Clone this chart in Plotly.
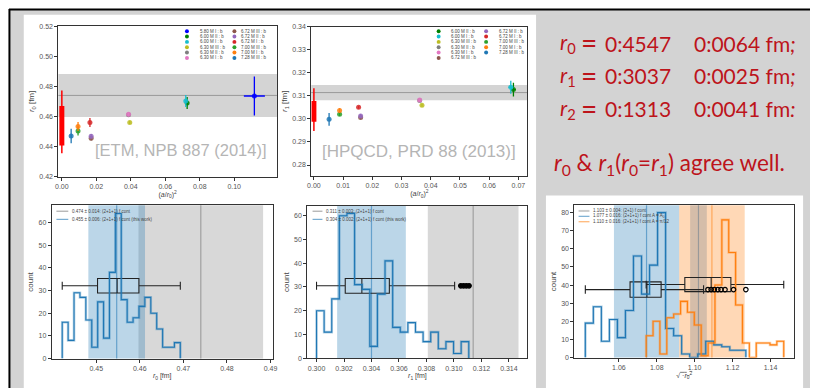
import numpy as np
import plotly.graph_objects as go

W, H = 815, 391
def px(x): return x / W
def py(y): return 1 - y / H

# ---------------- data ----------------
ens1_labels = ["5.80 M I : b", "6.00 M II : b", "6.00 M I : b", "6.30 M III : b", "6.30 M II : b", "6.30 M I : b",
               "6.72 M III : b", "6.72 M II : b", "6.72 M I : b", "7.00 M III : b", "7.00 M I : b", "7.28 M III : b"]
ens1_colors = ["#0000ff", "#008000", "#17becf", "#bcbd22", "#7f7f7f", "#e377c2",
               "#8c564b", "#9467bd", "#d62728", "#2ca02c", "#ff7f0e", "#1f77b4"]
ens1_x = [0.1117, 0.0727, 0.0719, 0.0394, 0.0387, 0.0387, 0.0170, 0.0170, 0.0163, 0.0094, 0.0094, 0.0054]
ens1_y = [0.4736, 0.4690, 0.4703, 0.4560, 0.4612, 0.4614, 0.4455, 0.4468, 0.4560, 0.4503, 0.4533, 0.4470]
ens1_ey = [0.0130, 0.0040, 0.0040, 0.0010, 0.0010, 0.0012, 0.0015, 0.0015, 0.0030, 0.0030, 0.0030, 0.0048]
ens1_ex = [0.0061, 0.0008, 0.0008, 0, 0, 0, 0, 0, 0, 0, 0, 0]

ens2_labels = ["6.00 M II : b", "6.00 M I : b", "6.30 M III : b", "6.30 M II : b", "6.30 M I : b", "6.72 M III : b",
               "6.72 M II : b", "6.72 M I : b", "7.00 M III : b", "7.00 M I : b", "7.28 M III : b"]
ens2_colors = ["#008000", "#17becf", "#bcbd22", "#7f7f7f", "#e377c2", "#8c564b",
               "#9467bd", "#d62728", "#2ca02c", "#ff7f0e", "#1f77b4"]
ens2_x = [0.0683, 0.0674, 0.0370, 0.0362, 0.0362, 0.0160, 0.0160, 0.0153, 0.0088, 0.0088, 0.0052]
ens2_y = [0.3127, 0.3137, 0.3059, 0.3080, 0.3082, 0.3006, 0.3013, 0.3050, 0.3020, 0.3036, 0.2998]
ens2_ey = [0.0030, 0.0028, 0.0006, 0.0006, 0.0006, 0.0008, 0.0008, 0.0006, 0.0008, 0.0010, 0.0028]
ens2_ex = [0.0008, 0.0008, 0, 0, 0, 0, 0, 0, 0, 0, 0]

# continuum results (stat / total range)
r0_cont_stat = [0.4407, 0.4669]
r0_cont_tot = [0.4355, 0.4773]
r1_cont_stat = [0.2988, 0.3077]
r1_cont_tot = [0.2948, 0.3133]

# literature bands (center, half width)
r0_lit = [0.474, 0.0143]
r1_lit = [0.3114, 0.0033]
r0_this = [0.4547, 0.0065]
r1_this = [0.3040, 0.0025]

# histograms
r0_edges = [0.4422, 0.4693]
r0_counts = [16, 8, 29, 27, 17, 5, 25, 9, 38, 64, 26, 16, 18, 23, 27, 20, 13, 5, 5, 7]
r1_edges = [0.3000, 0.31108]
r1_counts = [20, 11, 25, 60, 61, 31, 29, 5, 27, 41, 13, 11, 15, 11, 7, 11, 4, 7, 2, 7]
sqA_edges = [1.0423, 1.1270]
sqA_counts = [19, 28, 9, 21, 11, 26, 56, 35, 51, 80, 16, 12, 2, 0, 2, 9, 7, 6, 4, 4]
sqB_edges = [1.0744, 1.1470]
sqB_counts = [12, 20, 2, 22, 24, 31, 25, 18, 1, 8, 40, 76, 58, 29, 8, 0, 8, 8, 7, 9]

sq_lit = [1.1020, 0.0044]
sqA_band = [1.0746, 0.0172]
sqB_band = [1.1091, 0.0173]

# boxplot stats: lower, q1, median, q3, upper, position, height
r0_box = [0.4422, 0.4503, 0.4548, 0.4598, 0.4693, 32.1, 6.4]
r1_box = [0.3000, 0.30209, 0.3033, 0.3053, 0.31005, 30.5, 6.2]
r1_fliers = [0.3105, 0.3107, 0.3109, 0.3111]
sqA_box = [1.0423, 1.0659, 1.0748, 1.0823, 1.1047, 37.5, 8.5]
sqA_fliers = [1.1070, 1.1087, 1.1104, 1.1122, 1.1139, 1.1160, 1.1205, 1.1270]
sqB_box = [1.0744, 1.0948, 1.1087, 1.1191, 1.1470, 40.3, 7.8]

leg3 = ["0.474 ± 0.014: (2+1+1) f cont", "0.455 ± 0.006: (2+1+1) f cont (this work)"]
leg4 = ["0.311 ± 0.003: (2+1+1) f cont", "0.304 ± 0.002: (2+1+1) f cont (this work)"]
leg5 = ["1.103 ± 0.004: (2+1) f cont", "1.077 ± 0.016: (2+1+1) f cont A = A<sub>0</sub>",
        "1.110 ± 0.016: (2+1+1) f cont A = π/12"]

BLUE = "#1f77b4"
ORANGE = "#ff7f0e"
RED_TXT = "#bd141b"
TICKF = dict(family="Liberation Sans", size=7, color="#555555")

fig = go.Figure()

# ---------------- subplot domains (pixel boxes) ----------------
boxes = {
    1: (55, 276, 22.7, 175.7),
    2: (310.7, 529.3, 23, 175),
    3: (48.3, 271.7, 205, 361),
    4: (306.7, 529.3, 205.7, 360.7),
    5: (576.7, 799, 205, 360),
}
ranges = {
    1: ([-0.0020, 0.1248], [0.42, 0.52]),
    2: ([-0.0009, 0.0731], [0.2753, 0.34]),
    3: ([0.4398, 0.4905], [0, 67.6]),
    4: ([0.29933, 0.31535], [0, 64.1]),
    5: ([1.0365, 1.1525], [0, 84]),
}
ticks = {
    1: (np.round(np.arange(0, 0.101, 0.02), 2), ".2f", np.round(np.arange(0.42, 0.521, 0.02), 2), ".2f"),
    2: (np.round(np.arange(0, 0.071, 0.01), 2), ".2f", np.round(np.arange(0.28, 0.341, 0.01), 2), ".2f"),
    3: (np.round(np.arange(0.45, 0.491, 0.01), 2), ".2f", list(range(0, 61, 10)), "d"),
    4: (np.round(np.arange(0.300, 0.3141, 0.002), 3), ".3f", list(range(0, 61, 10)), "d"),
    5: (np.round(np.arange(1.06, 1.141, 0.02), 2), ".2f", list(range(0, 81, 10)), "d"),
}
xtitles = {1: "(<i>a</i>/<i>r</i><sub>0</sub>)<sup>2</sup>", 2: "(<i>a</i>/<i>r</i><sub>0</sub>)<sup>2</sup>",
           3: "<i>r</i><sub>0</sub> [fm]", 4: "<i>r</i><sub>1</sub> [fm]",
           5: "√<span style='text-decoration:overline'> ·<i>r</i><sub>0</sub><sup>2</sup></span>"}
ytitles = {1: "<i>r</i><sub>0</sub> [fm]", 2: "<i>r</i><sub>1</sub> [fm]", 3: "count", 4: "count", 5: "count"}

for i in range(1, 6):
    x0, x1, y0, y1 = boxes[i]
    xr, yr = ranges[i]
    xt, xf, yt, yf = ticks[i]
    sfx = "" if i == 1 else str(i)
    common = dict(showline=True, mirror=True, linecolor="#333333", linewidth=1, ticks="outside",
                  ticklen=3, tickwidth=1, tickcolor="#333333", showgrid=False, zeroline=False,
                  tickfont=TICKF)
    fig.update_layout(**{
        "xaxis" + sfx: dict(domain=[px(x0), px(x1)], range=xr, tickvals=list(xt), tickformat=xf,
                            anchor="y" + sfx, title=dict(text=xtitles[i], font=dict(family="Liberation Sans", size=7, color="#444"), standoff=2), **common),
        "yaxis" + sfx: dict(domain=[py(y1), py(y0)], range=yr, tickvals=list(yt), tickformat=yf,
                            anchor="x" + sfx, title=dict(text=ytitles[i], font=dict(family="Liberation Sans", size=8, color="#444"), standoff=3), **common),
    })

def ax(i):
    return ("x", "y") if i == 1 else ("x%d" % i, "y%d" % i)

# ---------------- top plots ----------------
def top_plot(i, labels, colors, xs, ys, eys, exs, stat, tot, lit):
    xa, ya = ax(i)
    fig.add_shape(type="rect", xref=xa + " domain", yref=ya, x0=0, x1=1, y0=lit[0] - lit[1], y1=lit[0] + lit[1],
                  fillcolor="rgba(160,160,160,0.45)", line_width=0, layer="below")
    fig.add_shape(type="line", xref=xa + " domain", yref=ya, x0=0, x1=1, y0=lit[0], y1=lit[0],
                  line=dict(color="#999999", width=1), layer="below")
    fig.add_trace(go.Scatter(x=[0, 0], y=tot, mode="lines", line=dict(color="red", width=1.5),
                             xaxis=xa, yaxis=ya, showlegend=False))
    fig.add_trace(go.Scatter(x=[0, 0], y=stat, mode="lines", line=dict(color="red", width=5),
                             xaxis=xa, yaxis=ya, showlegend=False))
    for lab, c, x, y, ey, ex in zip(labels, colors, xs, ys, eys, exs):
        fig.add_trace(go.Scatter(x=[x], y=[y], mode="markers", name=lab,
                                 marker=dict(color=c, size=5, opacity=0.85),
                                 error_y=dict(type="constant", value=ey, color=c, thickness=1.3, width=0),
                                 error_x=dict(type="constant", value=ex, color=c, thickness=1.3, width=0),
                                 xaxis=xa, yaxis=ya, showlegend=False))

top_plot(1, ens1_labels, ens1_colors, ens1_x, ens1_y, ens1_ey, ens1_ex, r0_cont_stat, r0_cont_tot, r0_lit)
top_plot(2, ens2_labels, ens2_colors, ens2_x, ens2_y, ens2_ey, ens2_ex, r1_cont_stat, r1_cont_tot, r1_lit)

# ---------------- histograms ----------------
def step_xy(edges, counts):
    e = np.linspace(edges[0], edges[1], len(counts) + 1)
    xs = [e[0]] + list(e)
    ys = [0] + list(counts) + [0]
    return xs, ys

def hist(i, edges, counts, color, light):
    xa, ya = ax(i)
    xs, ys = step_xy(edges, counts)
    fig.add_trace(go.Scatter(x=xs, y=ys, mode="lines", line=dict(color=light, width=2.6, shape="hv"),
                             xaxis=xa, yaxis=ya, showlegend=False, hoverinfo="skip"))
    fig.add_trace(go.Scatter(x=xs, y=ys, mode="lines", line=dict(color=color, width=1.1, shape="hv"),
                             xaxis=xa, yaxis=ya, showlegend=False))

def band(i, b, fill, line):
    xa, ya = ax(i)
    fig.add_shape(type="rect", xref=xa, yref=ya + " domain", x0=b[0] - b[1], x1=b[0] + b[1], y0=0, y1=1,
                  fillcolor=fill, line_width=0, layer="below")
    fig.add_shape(type="line", xref=xa, yref=ya + " domain", x0=b[0], x1=b[0], y0=0, y1=1,
                  line=dict(color=line, width=1.2), layer="below")

def boxp(i, s, color="black"):
    xa, ya = ax(i)
    fig.add_trace(go.Box(lowerfence=[s[0]], q1=[s[1]], median=[s[2]], q3=[s[3]], upperfence=[s[4]], y=[s[5]],
                         orientation="h", width=s[6], whiskerwidth=0.55, fillcolor="rgba(0,0,0,0)",
                         line=dict(color=color, width=1.1), boxpoints=False, xaxis=xa, yaxis=ya,
                         showlegend=False))

def fliers(i, xs, ypos, filled):
    xa, ya = ax(i)
    fig.add_trace(go.Scatter(x=xs, y=[ypos] * len(xs), mode="markers",
                             marker=dict(symbol="circle" if filled else "circle-open", size=4.5, color="black",
                                         line=dict(width=1.2, color="black")),
                             xaxis=xa, yaxis=ya, showlegend=False))

band(3, r0_lit, "rgba(190,190,190,0.6)", "#a0a0a0")
band(3, r0_this, "rgba(31,119,180,0.3)", "rgba(31,119,180,0.55)")
hist(3, r0_edges, r0_counts, BLUE, "rgba(31,119,180,0.35)")
boxp(3, r0_box, "#222222")

band(4, r1_lit, "rgba(190,190,190,0.6)", "#a0a0a0")
band(4, r1_this, "rgba(31,119,180,0.3)", "rgba(31,119,180,0.55)")
hist(4, r1_edges, r1_counts, BLUE, "rgba(31,119,180,0.35)")
boxp(4, r1_box, "#222222")
fliers(4, r1_fliers, r1_box[5], True)

band(5, sqA_band, "rgba(31,119,180,0.3)", "rgba(31,119,180,0.55)")
band(5, sqB_band, "rgba(255,127,14,0.3)", "rgba(255,127,14,0.55)")
band(5, sq_lit, "rgba(150,150,150,0.4)", "#999999")
hist(5, sqA_edges, sqA_counts, BLUE, "rgba(31,119,180,0.35)")
hist(5, sqB_edges, sqB_counts, ORANGE, "rgba(255,127,14,0.35)")
boxp(5, sqA_box, "#222222")
boxp(5, sqB_box, "#222222")
fliers(5, sqA_fliers, sqA_box[5], False)

# ---------------- background frame ----------------
shapes = [
    dict(type="rect", xref="paper", yref="paper", x0=px(6), x1=1, y0=0, y1=py(6), fillcolor="#d3d3d3", line_width=0, layer="below"),
    dict(type="rect", xref="paper", yref="paper", x0=px(20), x1=px(538), y0=0, y1=py(11), fillcolor="white", line_width=0, layer="below"),
    dict(type="rect", xref="paper", yref="paper", x0=px(548), x1=px(808), y0=0, y1=py(195), fillcolor="white", line_width=0, layer="below"),
    dict(type="line", xref="paper", yref="paper", x0=px(5), x1=1, y0=py(5.5), y1=py(5.5), line=dict(color="black", width=2)),
    dict(type="line", xref="paper", yref="paper", x0=px(5.5), x1=px(5.5), y0=0, y1=py(5), line=dict(color="black", width=2)),
]
existing = list(fig.layout.shapes)
fig.layout.shapes = []
for s in shapes:
    fig.add_shape(**s)
for s in existing:
    fig.add_shape(s)

# ---------------- legends (manual) ----------------
ann = []
def leg_marker(x, y, color):
    fig.add_shape(type="circle", xref="paper", yref="paper", x0=px(x - 2), x1=px(x + 2), y0=py(y + 2), y1=py(y - 2),
                  fillcolor=color, line_width=0)
def leg_text(x, y, t, size=4.5):
    ann.append(dict(x=px(x), y=py(y), xref="paper", yref="paper", text=t, showarrow=False, xanchor="left",
                    yanchor="middle", font=dict(family="Liberation Sans", size=size, color="#444444")))

rows = [27.7, 33.1, 38.6, 44.0, 49.4, 54.9]
for k in range(6):
    leg_marker(185, rows[k], ens1_colors[k]); leg_text(196, rows[k], ens1_labels[k])
    leg_marker(233, rows[k], ens1_colors[6 + k]); leg_text(238, rows[k], ens1_labels[6 + k])
for k in range(6):
    leg_marker(439.5, rows[k], ens2_colors[k]); leg_text(450, rows[k], ens2_labels[k])
for k in range(5):
    leg_marker(487.5, rows[k], ens2_colors[6 + k]); leg_text(498, rows[k], ens2_labels[6 + k])

def leg_line(x0, x1, y, color, w=1.2):
    fig.add_shape(type="line", xref="paper", yref="paper", x0=px(x0), x1=px(x1), y0=py(y), y1=py(y),
                  line=dict(color=color, width=w))
leg_line(53, 65, 211, "#aaaaaa"); leg_text(67, 211, leg3[0])
leg_line(53, 65, 219.3, "rgba(31,119,180,0.6)"); leg_text(67, 219.3, leg3[1])
leg_line(312, 322, 211, "#aaaaaa"); leg_text(324, 211, leg4[0])
leg_line(312, 322, 219.3, "rgba(31,119,180,0.6)"); leg_text(324, 219.3, leg4[1])
leg_line(581, 592, 210.7, "#cccccc", 2); leg_text(594, 210.7, leg5[0])
leg_line(581, 592, 216.2, "rgba(31,119,180,0.6)"); leg_text(594, 216.2, leg5[1])
leg_line(581, 592, 221.7, "rgba(255,127,14,0.6)"); leg_text(594, 221.7, leg5[2])

# watermarks
ann.append(dict(x=px(268), y=py(149), xref="paper", yref="paper", text="[ETM, NPB 887 (2014)]", showarrow=False,
                xanchor="right", yanchor="middle", font=dict(family="Liberation Sans", size=16.5, color="#b5b5b5")))
ann.append(dict(x=px(520), y=py(150), xref="paper", yref="paper", text="[HPQCD, PRD 88 (2013)]", showarrow=False,
                xanchor="right", yanchor="middle", font=dict(family="Liberation Sans", size=17, color="#b5b5b5")))

# red text
RF = dict(family="Lato", size=21, color=RED_TXT)
red_rows = [("<i>r</i><sub>0</sub>", "0:4547", "0:0064 fm<i>;</i>", 40),
            ("<i>r</i><sub>1</sub>", "0:3037", "0:0025 fm<i>;</i>", 73),
            ("<i>r</i><sub>2</sub>", "0:1313", "0:0041 fm<i>:</i>", 106.5)]
for a, num, b, y in red_rows:
    ann.append(dict(x=px(560), y=py(y), xref="paper", yref="paper", text=a, showarrow=False, xanchor="left",
                    yanchor="middle", font=RF))
    ann.append(dict(x=px(591.5), y=py(y - 1), xref="paper", yref="paper", text="=", showarrow=False,
                    xanchor="center", yanchor="middle", font=dict(family="Lato", size=28, color=RED_TXT)))
    ann.append(dict(x=px(606), y=py(y), xref="paper", yref="paper", text=num, showarrow=False, xanchor="left",
                    yanchor="middle", font=RF))
    ann.append(dict(x=px(696), y=py(y), xref="paper", yref="paper", text=b, showarrow=False, xanchor="left",
                    yanchor="middle", font=RF))
ann.append(dict(x=px(554), y=py(163), xref="paper", yref="paper",
                text="<i>r</i><sub>0</sub> &amp; <i>r</i><sub>1</sub>(<i>r</i><sub>0</sub>=<i>r</i><sub>1</sub>) agree well.",
                showarrow=False, xanchor="left", yanchor="middle", font=dict(family="Lato", size=22.5, color=RED_TXT)))

fig.update_layout(annotations=ann, width=W, height=H, autosize=False, margin=dict(l=0, r=0, t=0, b=0),
                  paper_bgcolor="white", plot_bgcolor="white", showlegend=False)
fig.write_html("out.html", config={"displayModeBar": False},
               post_script="document.body.style.margin='0px';document.body.style.overflow='hidden';")
